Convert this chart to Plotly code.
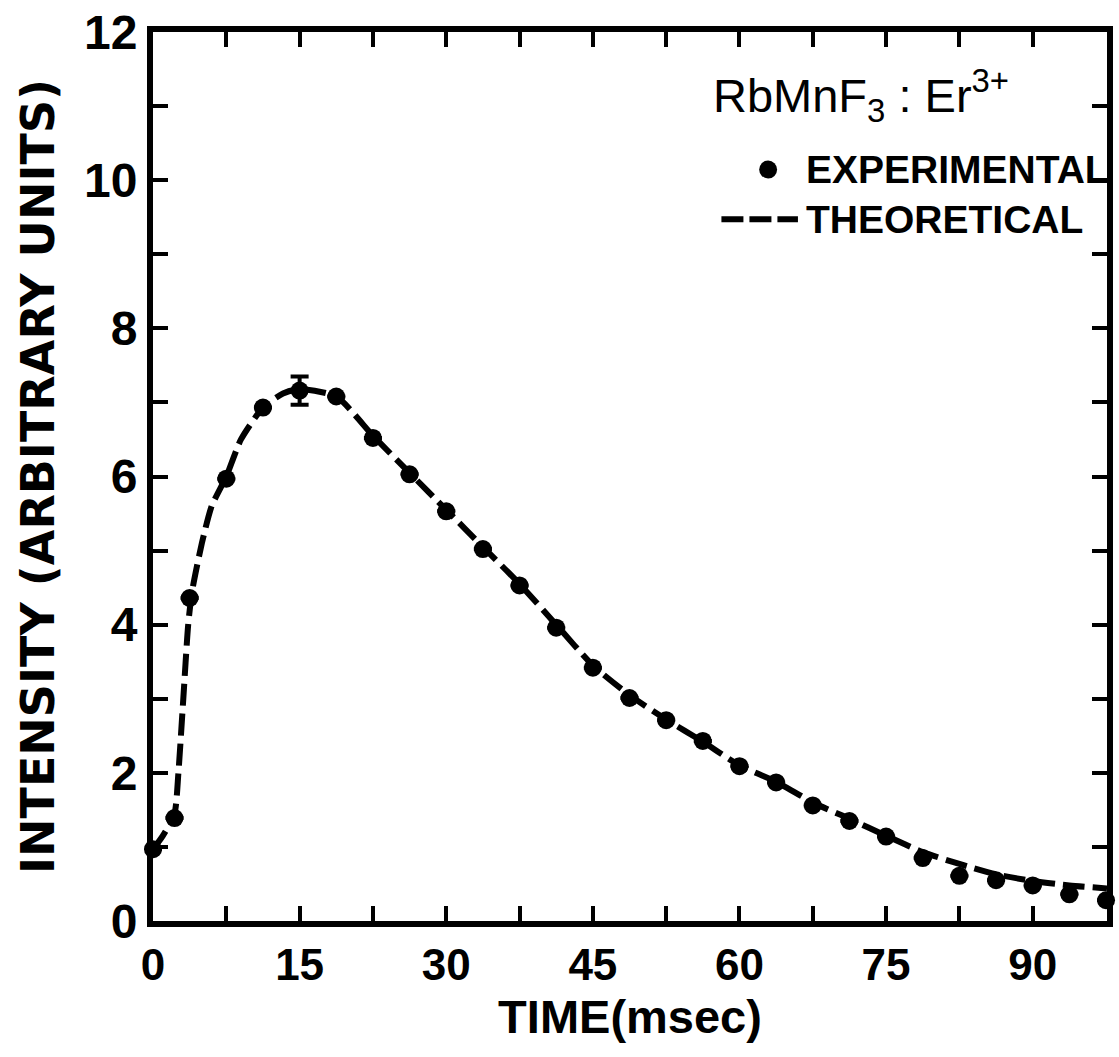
import plotly.graph_objects as go

# ---------------- data ----------------
time_exp = [0, 2.2, 3.75, 7.5, 11.25, 15, 18.75, 22.5, 26.25, 30, 33.75, 37.5, 41.25,
            45, 48.75, 52.5, 56.25, 60, 63.75, 67.5, 71.25, 75, 78.75, 82.5, 86.25,
            90, 93.75, 97.5]
intensity_exp = [0.97, 1.39, 4.36, 5.97, 6.93, 7.16, 7.08, 6.52, 6.03, 5.53, 5.02, 4.53,
                 3.96, 3.42, 3.01, 2.71, 2.43, 2.09, 1.87, 1.56, 1.35, 1.14, 0.85, 0.61,
                 0.55, 0.48, 0.36, 0.28]
error_exp = [None, None, None, None, None, 0.19] + [None] * 22

time_th = [0, 1.0, 2.2, 2.6, 3.1, 3.6, 4.0, 5.0, 6.0, 7.5, 9.0, 11.25, 13.3, 15, 18.75,
           22.5, 26.25, 30, 33.75, 37.5, 41.25, 45, 48.75, 52.5, 56.25, 60, 63.75, 67.5,
           71.25, 75, 78.75, 82.5, 86.25, 90, 93.75, 97.6]
intensity_th = [0.97, 1.15, 1.45, 2.0, 3.0, 4.0, 4.45, 5.1, 5.6, 6.0, 6.5, 6.93, 7.12,
                7.18, 7.08, 6.55, 6.05, 5.55, 5.05, 4.55, 4.0, 3.45, 3.05, 2.72, 2.42,
                2.1, 1.88, 1.6, 1.38, 1.15, 0.93, 0.77, 0.63, 0.54, 0.48, 0.44]

x_tickvals = [0, 15, 30, 45, 60, 75, 90]
y_tickvals = [0, 2, 4, 6, 8, 10, 12]

# ---------------- layout geometry ----------------
W, H = 1119, 1057
L, R, T, B = 153, 6, 29, 136
PW, PH = W - L - R, H - T - B


def px(xp):
    return (xp - L) / PW


def py(yp):
    return (H - B - yp) / PH


FONT = "Liberation Sans"

fig = go.Figure()

fig.add_trace(go.Scatter(
    x=time_th, y=intensity_th, mode="lines", name="THEORETICAL",
    line=dict(color="black", width=6, dash="22px,8px", shape="spline", smoothing=0.6),
    showlegend=False, cliponaxis=False,
))

fig.add_trace(go.Scatter(
    x=time_exp, y=intensity_exp, mode="markers", name="EXPERIMENTAL",
    marker=dict(color="black", size=18),
    error_y=dict(type="data", array=error_exp, visible=True, color="black",
                 thickness=4, width=9),
    showlegend=False, cliponaxis=False,
))

axis_common = dict(
    showline=True, linewidth=6, linecolor="black", mirror="ticks",
    ticks="inside", ticklen=15, tickwidth=4, tickcolor="black",
    showgrid=False, zeroline=False,
)

fig.update_xaxes(
    range=[0, 97.6], tickvals=x_tickvals, **axis_common,
    minor=dict(dtick=7.5, tick0=0, ticks="inside", ticklen=15, tickwidth=4,
               tickcolor="black", showgrid=False),
    tickfont=dict(family=FONT, size=44, color="black", weight="bold"),
    title=dict(text="TIME(msec)", standoff=14,
               font=dict(family=FONT, size=47, color="black", weight="bold")),
)
fig.update_yaxes(
    range=[0, 12], tickvals=y_tickvals, **axis_common,
    minor=dict(dtick=1, tick0=0, ticks="inside", ticklen=15, tickwidth=4,
               tickcolor="black", showgrid=False),
    tickfont=dict(family=FONT, size=48, color="black", weight="bold"),
    title=dict(text="INTENSITY (ARBITRARY UNITS)", standoff=17,
               font=dict(family="DejaVu Sans", size=46, color="black", weight="bold")),
)

# ---------------- legend (drawn in paper coordinates) ----------------
fig.add_annotation(
    x=px(715), y=py(93), xref="paper", yref="paper", xanchor="left", yanchor="middle",
    text="RbMnF<sub>3</sub> : Er<sup>3+</sup>", showarrow=False,
    font=dict(family=FONT, size=47, color="black"),
)
fig.add_annotation(
    x=px(808), y=py(167), xref="paper", yref="paper", xanchor="left", yanchor="middle",
    text="EXPERIMENTAL", showarrow=False,
    font=dict(family=FONT, size=39, color="black", weight="bold"),
)
fig.add_annotation(
    x=px(808), y=py(217), xref="paper", yref="paper", xanchor="left", yanchor="middle",
    text="THEORETICAL", showarrow=False,
    font=dict(family=FONT, size=39, color="black", weight="bold"),
)
fig.add_shape(type="circle", xref="paper", yref="paper",
              x0=px(763), x1=px(781), y0=py(176), y1=py(158),
              fillcolor="black", line=dict(color="black", width=0))
fig.add_shape(type="line", xref="paper", yref="paper",
              x0=px(725), x1=px(802), y0=py(217), y1=py(217),
              line=dict(color="black", width=6, dash="22px,6px"))

fig.update_layout(
    width=W, height=H,
    margin=dict(l=L, r=R, t=T, b=B),
    paper_bgcolor="white", plot_bgcolor="white",
    showlegend=False,
)

fig.write_html("out.html")
